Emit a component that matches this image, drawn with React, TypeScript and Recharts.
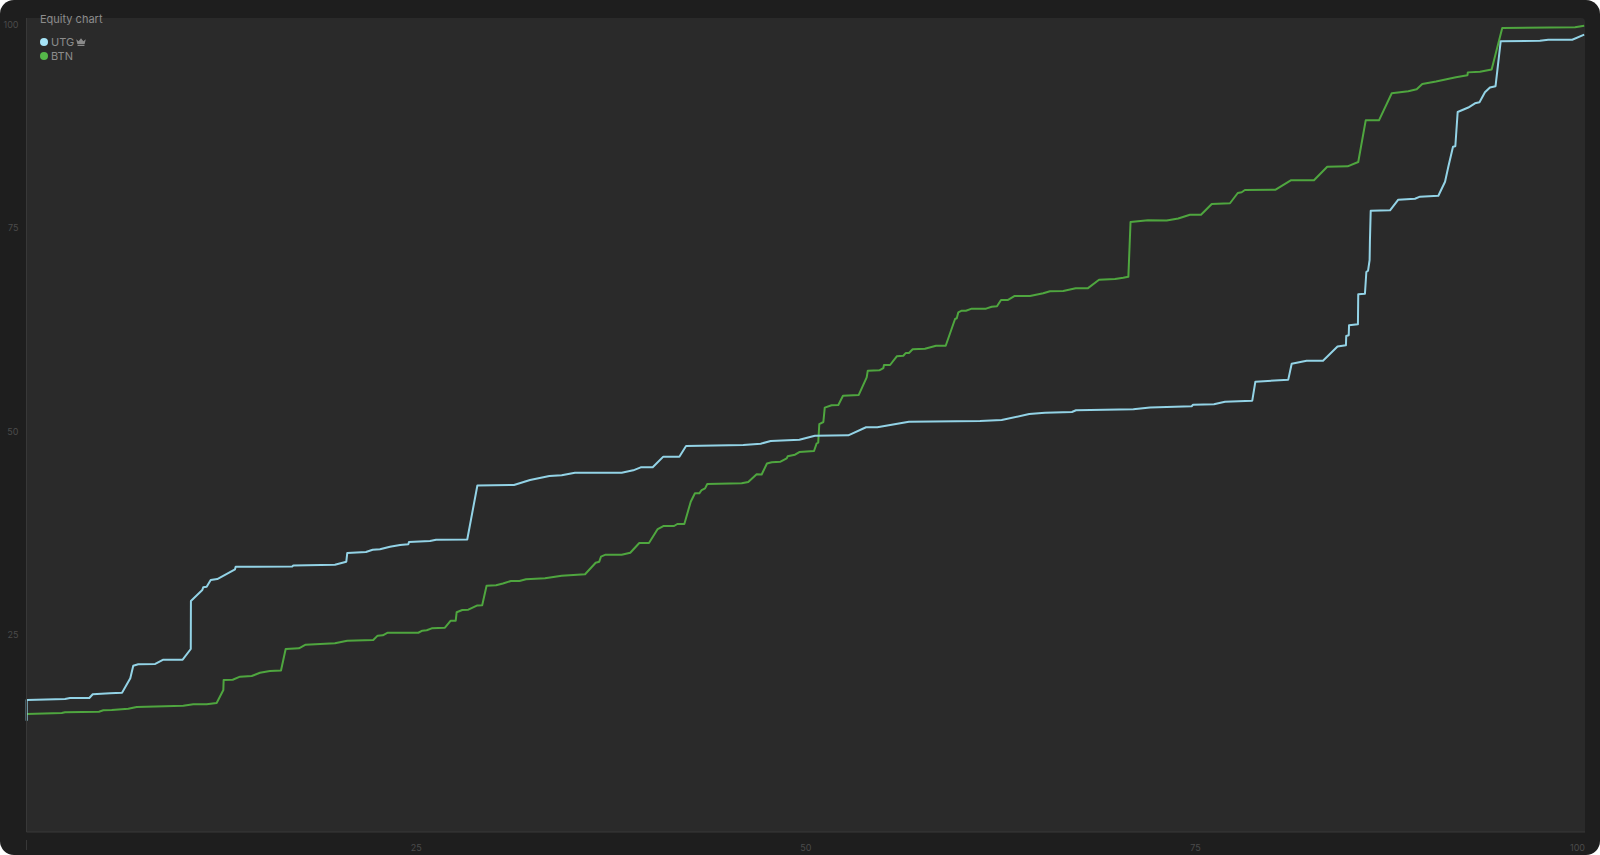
import React from 'react';
import { LineChart, Line, XAxis, YAxis } from 'recharts';

const xTicks = [0, 25, 50, 75, 100];
const yTicks = [25, 50, 75, 100];

// [hand percentile, equity]
const utgPoints: [number, number][] = [
    [0.01, 13.67], [0.01, 16.22], [2.47, 16.34], [2.79, 16.46], [4.03, 16.46], [4.25, 16.92], [5.36, 17.04], [6.13, 17.11],
    [6.66, 18.88], [6.85, 20.43], [7.17, 20.6], [8.26, 20.64], [8.78, 21.17], [10.02, 21.17], [10.54, 22.48], [10.55, 28.38],
    [11.28, 29.73], [11.34, 30.06], [11.56, 30.14], [11.82, 30.96], [12.24, 31.08], [13.38, 32.27], [13.42, 32.59], [17.05, 32.62], [17.12, 32.74],
    [19.79, 32.84], [20.52, 33.21], [20.58, 34.27], [21.78, 34.4], [22.21, 34.68], [22.68, 34.73], [23.32, 35.05], [23.97, 35.26],
    [24.5, 35.34], [24.54, 35.63], [25.89, 35.75], [26.28, 35.91], [28.28, 35.93], [28.93, 42.57], [31.28, 42.63], [32.31, 43.24],
    [33.55, 43.73], [34.34, 43.82], [35.19, 44.14], [38.19, 44.14], [38.93, 44.43], [39.41, 44.8], [40.18, 44.8], [40.86, 46.11],
    [41.89, 46.11], [42.32, 47.42], [45.99, 47.54], [47.11, 47.7], [47.75, 48.03], [49.59, 48.19], [50.59, 48.69], [52.73, 48.73],
    [53.87, 49.72], [54.59, 49.72], [56.62, 50.41], [61.18, 50.49], [62.57, 50.61], [64.34, 51.35], [65.35, 51.51], [67.08, 51.6],
    [67.34, 51.81], [71.02, 51.93], [72.09, 52.15], [74.76, 52.3], [74.85, 52.48], [76.19, 52.54], [76.9, 52.85], [78.65, 52.99],
    [78.85, 55.32], [80.96, 55.57], [81.18, 57.53], [82.14, 57.9], [83.19, 57.9], [84.12, 59.64], [84.66, 59.79], [84.68, 60.93],
    [84.84, 61.02], [84.86, 62.25], [85.43, 62.37], [85.45, 66.06], [85.88, 66.13], [85.97, 68.8], [86.08, 68.96], [86.18, 70.27],
    [86.2, 72.64], [86.25, 76.33], [87.49, 76.38], [88.02, 77.68], [89.09, 77.8], [89.41, 78.05], [90.59, 78.17], [91.02, 79.89],
    [91.23, 81.73], [91.53, 84.19], [91.68, 84.24], [91.83, 88.45], [92.51, 89.0], [92.94, 89.52], [93.23, 89.64], [93.58, 90.87],
    [93.9, 91.46], [94.26, 91.62], [94.59, 97.13], [97.11, 97.21], [97.64, 97.33], [99.18, 97.33], [99.95, 97.95],
];

const btnPoints: [number, number][] = [
    [0.01, 14.5], [2.26, 14.62], [2.47, 14.71], [4.65, 14.78], [4.93, 14.95], [5.47, 14.99], [6.53, 15.15], [7.07, 15.36],
    [10.06, 15.52], [10.7, 15.69], [11.56, 15.69], [12.2, 15.85], [12.63, 17.44], [12.65, 18.67], [13.23, 18.71], [13.7, 19.08],
    [14.45, 19.16], [14.98, 19.57], [15.62, 19.78], [16.33, 19.84], [16.63, 22.48], [17.48, 22.57], [17.91, 23.01], [19.79, 23.18],
    [20.58, 23.5], [22.25, 23.59], [22.53, 24.12], [22.86, 24.16], [23.18, 24.48], [25.14, 24.48], [25.4, 24.73], [25.68, 24.78],
    [26.0, 25.02], [26.85, 25.1], [27.22, 25.96], [27.54, 25.96], [27.6, 26.99], [27.96, 27.27], [28.35, 27.31], [28.93, 27.83],
    [29.24, 27.86], [29.52, 30.26], [30.13, 30.31], [30.57, 30.53], [31.09, 30.84], [31.63, 30.84], [32.05, 31.04], [33.27, 31.17],
    [34.34, 31.49], [35.84, 31.66], [36.52, 33.08], [36.75, 33.21], [36.86, 33.82], [37.16, 34.07], [38.19, 34.07], [38.74, 34.31],
    [39.32, 35.5], [39.94, 35.5], [40.5, 37.22], [40.86, 37.59], [41.55, 37.59], [41.76, 37.84], [42.21, 37.84], [42.62, 40.58],
    [42.89, 41.61], [43.17, 41.61], [43.32, 42.01], [43.54, 42.22], [43.68, 42.75], [45.89, 42.84], [46.31, 43.0], [46.85, 43.94],
    [47.17, 43.92], [47.51, 45.27], [47.82, 45.42], [48.38, 45.49], [48.78, 45.91], [48.84, 46.15], [49.31, 46.35], [49.59, 46.68],
    [50.53, 46.81], [50.7, 47.75], [50.8, 47.83], [50.87, 50.12], [51.13, 50.37], [51.22, 52.13], [51.66, 52.42], [52.09, 52.46],
    [52.39, 53.6], [53.4, 53.69], [53.91, 55.86], [53.98, 56.67], [54.72, 56.72], [54.98, 57.0], [55.02, 57.37], [55.41, 57.37],
    [55.84, 58.44], [56.26, 58.51], [56.41, 58.84], [56.62, 58.84], [56.86, 59.3], [57.65, 59.37], [58.36, 59.74], [58.98, 59.74],
    [59.58, 63.02], [59.69, 63.11], [59.79, 63.84], [60.01, 64.04], [60.28, 64.04], [60.65, 64.29], [61.57, 64.29], [61.93, 64.53],
    [62.27, 64.58], [62.53, 65.36], [62.98, 65.36], [63.41, 65.85], [64.39, 65.85], [65.24, 66.18], [65.67, 66.43], [66.52, 66.46],
    [67.32, 66.79], [68.09, 66.79], [68.82, 67.85], [69.84, 67.94], [70.37, 68.1], [70.7, 68.22], [70.84, 74.94], [71.96, 75.14],
    [73.16, 75.12], [73.9, 75.37], [74.65, 75.82], [75.36, 75.82], [76.05, 77.15], [77.22, 77.24], [77.72, 78.5], [77.97, 78.59],
    [78.18, 78.87], [80.15, 78.91], [81.12, 80.06], [82.61, 80.06], [83.46, 81.73], [84.77, 81.78], [85.45, 82.31], [85.93, 87.43],
    [86.78, 87.43], [87.6, 90.75], [88.66, 90.99], [89.2, 91.24], [89.56, 91.89], [90.44, 92.2], [91.72, 92.73], [92.46, 92.97],
    [92.48, 93.32], [93.26, 93.39], [94.01, 93.67], [94.69, 98.77], [99.36, 98.86], [99.95, 99.05],
];

const toRows = (points: [number, number][]) => points.map(([x, equity]) => ({ x, equity }));

const FONT = 'Inter, sans-serif';
const TICK_COLOR = '#4b4b4b';
const AXIS_COLOR = '#383838';

const XTick = ({ x, y, payload }: any) => {
    if (payload.value === 0) {
        return <line x1={x} x2={x} y1={y} y2={y + 10} stroke={AXIS_COLOR} />;
    }
    return (
        <text x={x} y={y + 11} textAnchor={payload.value === 100 ? 'end' : 'middle'} fontSize={9} fontFamily={FONT} fill={TICK_COLOR}>
            {payload.value}
        </text>
    );
};

const YTick = ({ x, y, payload }: any) => (
    <text x={x} y={y + 9.5} textAnchor="end" fontSize={9} fontFamily={FONT} fill={TICK_COLOR}>
        {payload.value}
    </text>
);

const Crown = () => (
    <svg width={10} height={8} viewBox="0 0 9 8" preserveAspectRatio="none" style={{ marginLeft: 2 }}>
        <path d="M0.2 1.2 L2.4 3.2 L4.5 0.3 L6.6 3.2 L8.8 1.2 L7.8 6 L1.2 6 Z M1.4 6.7 H7.6 V7.9 H1.4 Z" fill="#8a8a8a" />
    </svg>
);

const LegendRow = ({ color, name, crown }: { color: string; name: string; crown?: boolean }) => (
    <div style={{ display: 'flex', alignItems: 'center', height: 14 }}>
        <span style={{ width: 8, height: 8, borderRadius: '50%', background: color, marginRight: 3 }} />
        <span>{name}</span>
        {crown && <Crown />}
    </div>
);

export default function App() {
    return (
        <div style={{ position: 'fixed', left: 0, top: 0, width: 1600, height: 855, background: '#fff' }}>
            <div style={{ position: 'absolute', inset: 0, background: '#1e1e1e', borderRadius: 14 }} />
            <div style={{ position: 'absolute', left: 26, top: 18, width: 1559, height: 814, background: '#2a2a2a', borderTopRightRadius: 4 }} />
            <div style={{ position: 'absolute', left: 0, top: 0 }}>
                <LineChart width={1600} height={855} margin={{ top: 18, right: 15, bottom: 0, left: 0 }}>
                    <XAxis
                        dataKey="x"
                        type="number"
                        domain={[0, 100]}
                        ticks={xTicks}
                        interval={0}
                        height={23}
                        tick={XTick}
                        tickLine={false}
                        axisLine={{ stroke: AXIS_COLOR }}
                    />
                    <YAxis
                        type="number"
                        domain={[0, 100]}
                        ticks={yTicks}
                        interval={0}
                        width={26.5}
                        tick={YTick}
                        tickLine={false}
                        axisLine={{ stroke: AXIS_COLOR }}
                    />
                    <Line data={toRows(btnPoints)} dataKey="equity" name="BTN" type="linear" stroke="#4fa63f" strokeWidth={2} strokeLinejoin="round" dot={false} activeDot={false} isAnimationActive={false} />
                    <Line data={toRows(utgPoints)} dataKey="equity" name="UTG" type="linear" stroke="#93d3e6" strokeWidth={2} strokeLinejoin="round" dot={false} activeDot={false} isAnimationActive={false} />
                </LineChart>
            </div>
            <div style={{ position: 'absolute', left: 40, top: 12, fontFamily: FONT, fontSize: 11, color: '#8c8c8c', lineHeight: '14px' }}>
                <div style={{ marginBottom: 9 }}>Equity chart</div>
                <LegendRow color="#a6e4f7" name="UTG" crown />
                <LegendRow color="#55b849" name="BTN" />
            </div>
        </div>
    );
}
